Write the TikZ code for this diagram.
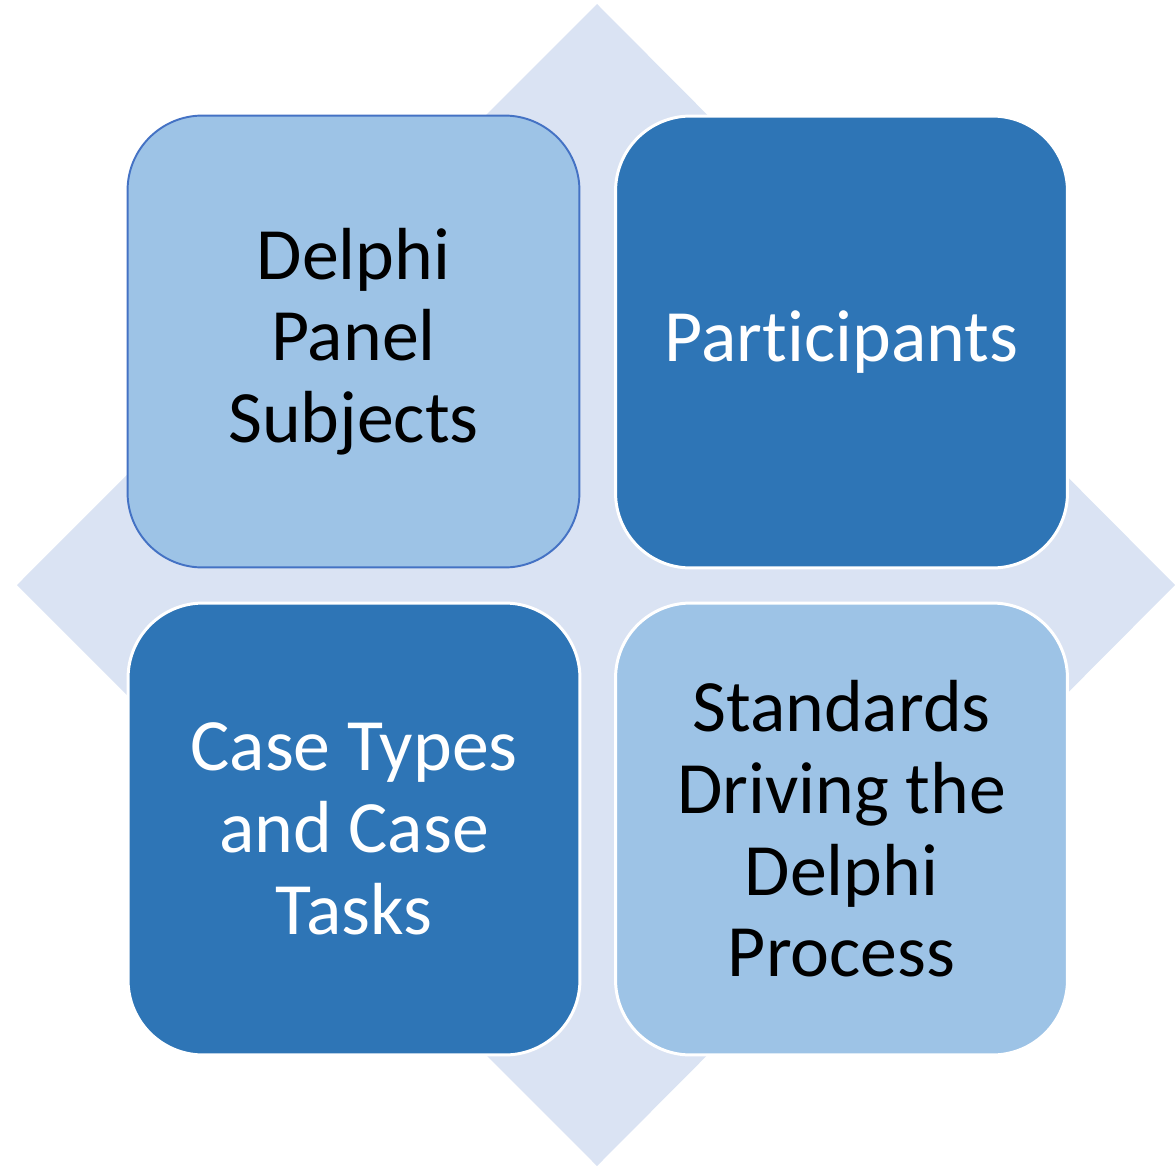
\documentclass[tikz,border=0pt]{standalone}
\usepackage{fontspec}
\setmainfont{Carlito}[Ligatures=CommonOff]
\definecolor{diamondblue}{HTML}{DAE3F3}
\definecolor{lightblue}{HTML}{9DC3E6}
\definecolor{darkblue}{HTML}{2E75B6}
\definecolor{edgeblue}{HTML}{4472C4}
\begin{document}
\begin{tikzpicture}[x=0.02cm,y=-0.02cm,
	box/.style={rectangle,rounded corners=1.5cm,minimum width=9.04cm,minimum height=9.04cm,align=center,font=\fontsize{42}{46.5}\selectfont},
	lightbox/.style={box,fill=lightblue,text=black},
	darkbox/.style={box,fill=darkblue,text=white}]
	\useasboundingbox (0,0) rectangle (1175,1166);
	\fill[diamondblue] (597,4) -- (1175,585) -- (597,1166) -- (17,585) -- cycle; % background diamond
	\node[lightbox,draw=edgeblue,line width=1.1pt] (panel) at (353.5,341.5) {Delphi\\Panel\\Subjects};
	\node[darkbox,draw=white,line width=1.7pt] (participants) at (841.5,342) {Participants};
	\node[darkbox,draw=white,line width=1.7pt] (cases) at (354,829) {Case Types\\and Case\\Tasks};
	\node[lightbox,draw=white,line width=1.7pt] (standards) at (841.5,829) {Standards\\Driving the\\Delphi\\Process};
\end{tikzpicture}
\end{document}
